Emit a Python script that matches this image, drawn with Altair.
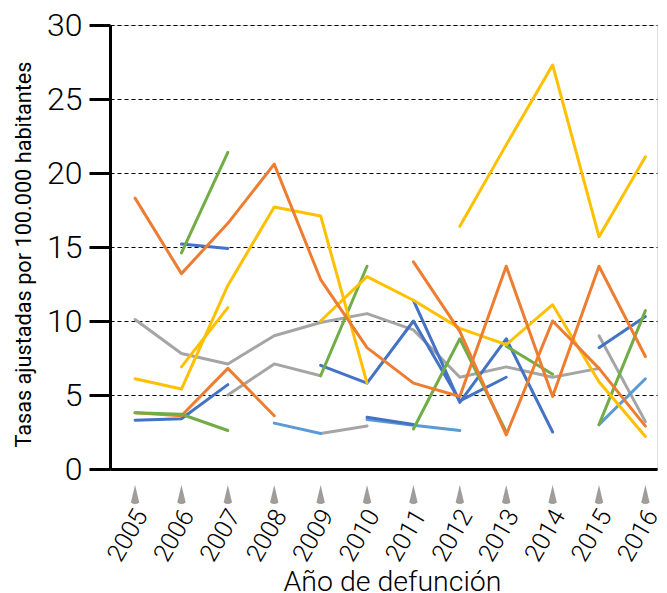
import altair as alt
import pandas as pd

N = None
anios = [2005, 2006, 2007, 2008, 2009, 2010, 2011, 2012, 2013, 2014, 2015, 2016]

# Each series: 12 yearly values (None = no data)
naranja_1 = [18.3, 13.2, 16.6, 20.6, 12.8, 8.2, 5.8, 4.9, 13.7, 4.9, 13.7, 7.6]
naranja_2 = [N, N, N, N, N, N, 14.0, 9.3, 2.3, 10.0, 6.8, 2.9]
naranja_3 = [3.8, 3.6, 6.8, 3.6, N, N, N, N, N, N, N, N]
amarillo_1 = [6.1, 5.4, 12.4, 17.7, 17.1, 5.8, N, N, N, N, N, N]
amarillo_2 = [N, 6.9, 10.9, N, N, N, N, N, N, N, N, N]
amarillo_3 = [N, N, N, N, 10.0, 13.0, 11.4, 9.5, 8.4, 11.1, 5.9, 2.2]
amarillo_4 = [N, N, N, N, N, N, N, 16.4, 21.9, 27.3, 15.7, 21.1]
verde_1 = [N, 14.6, 21.4, N, N, N, N, N, N, N, N, N]
verde_2 = [3.8, 3.7, 2.6, N, N, N, N, N, N, N, N, N]
verde_3 = [N, N, N, N, 6.3, 13.7, N, N, N, N, N, N]
verde_4 = [N, N, N, N, N, N, 2.7, 8.8, 2.5, N, N, N]
verde_5 = [N, N, N, N, N, N, N, N, 8.3, 6.4, N, N]
verde_6 = [N, N, N, N, N, N, N, N, N, N, 3.0, 10.7]
azul_1 = [N, 15.2, 14.9, N, N, N, N, N, N, N, N, N]
azul_2 = [3.3, 3.4, 5.7, N, N, N, N, N, N, N, N, N]
azul_3 = [N, N, N, N, 7.0, 5.8, 10.0, 4.6, 6.2, N, N, N]
azul_4 = [N, N, N, N, N, N, 11.4, 4.5, 8.8, 2.5, N, N]
azul_5 = [N, N, N, N, N, 3.5, 3.0, N, N, N, N, N]
azul_6 = [N, N, N, N, N, N, N, N, N, N, 8.2, 10.3]
celeste_1 = [N, N, N, 3.1, 2.4, N, N, N, N, N, N, N]
celeste_2 = [N, N, N, N, N, 3.35, 2.95, 2.6, N, N, N, N]
celeste_3 = [N, N, N, N, N, N, N, N, N, N, 3.0, 6.1]
gris_1 = [10.1, 7.8, 7.1, 9.0, 9.9, 10.5, 9.4, 6.2, 6.9, 6.2, 6.8, N]
gris_2 = [N, N, 5.0, 7.1, 6.3, N, N, N, N, N, N, N]
gris_3 = [N, N, N, N, 2.4, 2.9, N, N, N, N, N, N]
gris_4 = [N, N, N, N, N, N, N, N, N, N, 9.0, 3.2]

series = {
    "gris_1": gris_1, "gris_2": gris_2, "gris_3": gris_3, "gris_4": gris_4,
    "celeste_1": celeste_1, "celeste_2": celeste_2, "celeste_3": celeste_3,
    "azul_1": azul_1, "azul_2": azul_2, "azul_3": azul_3, "azul_4": azul_4,
    "azul_5": azul_5, "azul_6": azul_6,
    "naranja_3": naranja_3,
    "verde_1": verde_1, "verde_2": verde_2, "verde_3": verde_3, "verde_4": verde_4,
    "verde_5": verde_5, "verde_6": verde_6,
    "amarillo_1": amarillo_1, "amarillo_2": amarillo_2, "amarillo_3": amarillo_3,
    "amarillo_4": amarillo_4,
    "naranja_1": naranja_1, "naranja_2": naranja_2,
}

color_familia = {
    "naranja": "#ED7D31", "amarillo": "#FFC000", "verde": "#70AD47",
    "azul": "#4472C4", "celeste": "#5B9BD5", "gris": "#A5A5A5",
}

rows = []
for orden, (nombre, vals) in enumerate(series.items()):
    for a, v in zip(anios, vals):
        if v is not None:
            rows.append({"serie": nombre, "orden": orden, "anio": a, "tasa": v})
df = pd.DataFrame(rows)

nombres = list(series.keys())
colores = [color_familia[n.split("_")[0]] for n in nombres]

FONT = "Roboto"
xscale = alt.Scale(domain=[2004.46, 2016.25], nice=False, zero=False)
yscale = alt.Scale(domain=[0, 30], nice=False)

lines = alt.Chart(df).mark_line(strokeWidth=3, strokeJoin="round", strokeCap="round").encode(
    x=alt.X("anio:Q", scale=xscale, axis=alt.Axis(
        values=anios, format="d", labelAngle=-60, labelAlign="right", labelBaseline="middle",
        labelPadding=42, labelOffset=6, labelFontSize=25, labelFont=FONT, labelColor="black",
        labelFontWeight=300,
        labelOverlap=False, labelFlush=False, ticks=False, grid=False,
        domainColor="black", domainWidth=3,
        title="Año de defunción", titleFont=FONT, titleFontSize=28.5,
        titleFontWeight=300, titleColor="black",
        titleBaseline="alphabetic", titleY=121, titleX=282)),
    y=alt.Y("tasa:Q", scale=yscale, axis=alt.Axis(
        values=[0, 5, 10, 15, 20, 25, 30], labelFontSize=32, labelFont=FONT,
        labelFontWeight=300,
        labelColor="black", labelPadding=7, tickColor="black", tickWidth=3, tickSize=21,
        domainColor="black", domainWidth=3, grid=True, gridColor="black",
        gridDash=[4, 3], gridWidth=1.2,
        title="Tasas ajustadas por 100.000 habitantes", titleFont=FONT,
        titleFontSize=21.7, titleFontWeight="normal", titleColor="black",
        titleBaseline="middle", titleX=-87, titleY=229)),
    color=alt.Color("serie:N", scale=alt.Scale(domain=nombres, range=colores), legend=None),
    detail="serie:N",
    order="anio:Q",
)

marcas = pd.DataFrame({"anio": anios, "pos": [-1.75] * len(anios)})
flechas = alt.Chart(marcas).mark_point(
    shape="M0,-1L0.42,0.75Q0,1.05,-0.42,0.75Z", filled=True, size=400,
    color="#A09C99", opacity=1, clip=False,
).encode(
    x=alt.X("anio:Q", scale=xscale),
    y=alt.Y("pos:Q", scale=yscale),
)

chart = alt.layer(lines, flechas).properties(
    width=547, height=444,
    autosize=alt.AutoSizeParams(type="none"),
    padding={"left": 102, "top": 17, "right": 2, "bottom": 124},
).configure_view(stroke=None).configure(font=FONT)

chart.save("out.html", embed_options={"renderer": "svg", "actions": False})
